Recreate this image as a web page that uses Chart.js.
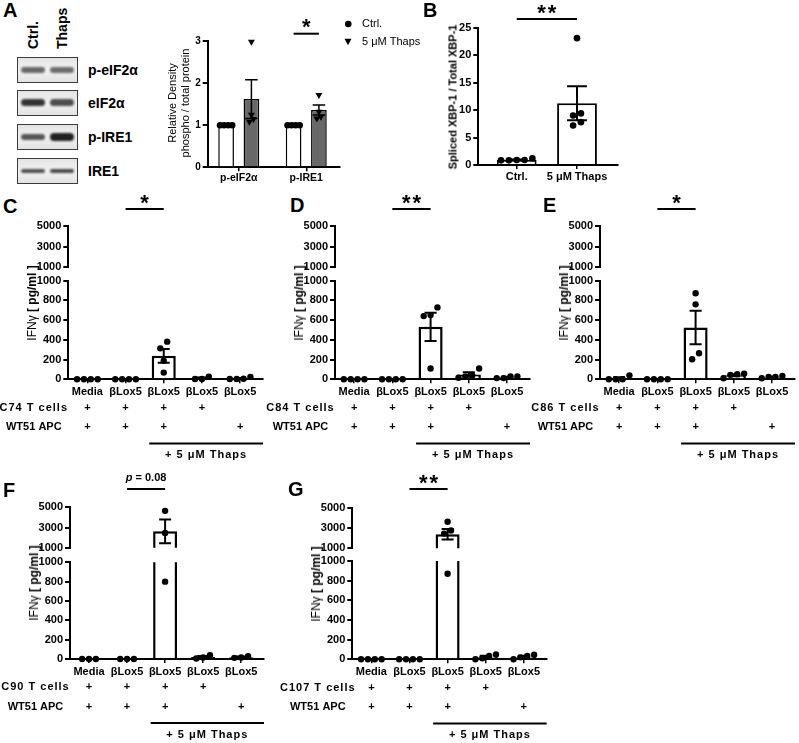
<!DOCTYPE html>
<html>
<head>
<meta charset="utf-8">
<title>Thapsigargin and IFNγ figure</title>
<script src="https://cdn.jsdelivr.net/npm/chart.js@4.4.1/dist/chart.umd.min.js"></script>
<style>
  html, body { margin: 0; padding: 0; background: #fff; }
  #fig { position: relative; width: 799px; height: 743px; overflow: hidden; background: #fff;
         font-family: "Liberation Sans", Arial, sans-serif; color: #000; }
  #fig canvas { position: absolute; }
  .t { position: absolute; white-space: nowrap; line-height: 1; }
  .blot { position: absolute; box-sizing: border-box; border: 1.5px solid #3c3c3c; overflow: hidden;
          background: linear-gradient(#e4e4e4, #f1f1f1 45%, #f1f1f1 55%, #e2e2e2); }
  .band { position: absolute; border-radius: 4px; filter: blur(1px); }
</style>
</head>
<body>
<div id="fig"></div>
<script>
// ---- values ----
const blotLanes = ['Ctrl.', 'Thaps'];
const blotRows = ['p-eIF2α', 'eIF2α', 'p-IRE1', 'IRE1'];

const densityCats = ['p-eIF2α', 'p-IRE1'];
const densityTicks = [0, 1, 2, 3];
const densityCtrl = [1, 1];
const densityThaps = [1.62, 1.36];
const densityThapsSem = [0.46, 0.12];
const densityCtrlPts = [[1, 1, 1, 1], [1, 1, 1, 1]];
const densityThapsPts = [[2.98, 1.25, 1.08, 1.15], [1.72, 1.32, 1.2, 1.16]];

const xbpCats = ['Ctrl.', '5 μM Thaps'];
const xbpTicks = [0, 5, 10, 15, 20, 25];
const xbpMean = [0.95, 11.25];
const xbpSem = [0.07, 3.1];
const xbpPts = [[1.2, 0.9, 0.85, 0.85, 0.9], [23.1, 9.4, 9.0, 7.8, 7.2]];

const ifnCats = ['Media', 'βLox5', 'βLox5', 'βLox5', 'βLox5'];
const tCellRow = ['+', '+', '+', '+', ''];
const apcRow = ['+', '+', '+', '', '+'];
const topTicks = [1000, 3000, 5000];
const bottomTicks = [0, 200, 400, 600, 800, 1000];

const c74Pts = [[0, 0, 0, 0], [0, 0, 0, 0], [314, 382, 189, 68], [27, 3, 3], [3, 3, 5, 25]];
const c74Mean = [0, 0, 238, 11, 9];
const c74Sem = [0, 0, 69, 8, 5];

const c84Pts = [[0, 0, 0, 0], [0, 0, 0, 0], [651, 641, 729, 109], [40, 15, 110, 30], [30, 12, 12, 28]];
const c84Mean = [0, 0, 532, 49, 20];
const c84Sem = [0, 0, 143, 23, 5];

const c86Pts = [[0, 0, 0, 40], [0, 0, 0, 0], [872, 760, 264, 203], [52, 45, 10, 58], [25, 10, 25, 35]];
const c86Mean = [10, 0, 525, 41, 24];
const c86Sem = [10, 0, 170, 11, 5];

const c90Pts = [[0, 0, 0], [0, 0, 0], [4650, 2450, 800], [40, 5, 15], [30, 12, 15]];
const c90Mean = [0, 0, 2620, 20, 19];
const c90Sem = [0, 0, 1170, 10, 6];

const c107Pts = [[0, 0, 0, 0], [0, 0, 0, 0], [3620, 2750, 2450, 870], [34, 0, 10, 50], [33, 0, 20, 47]];
const c107Mean = [0, 0, 2380, 24, 25];
const c107Sem = [0, 0, 510, 11, 10];

// ---- drawing ----
const FONT = '"Liberation Sans", Arial, sans-serif';
const thapsFrom = 1.62; // where the "+ 5 uM Thaps" bar starts, in category units
Chart.defaults.font.family = FONT;
Chart.defaults.color = '#000';

const fig = document.getElementById('fig');

function addCanvas(left, top, w, h) {
  const c = document.createElement('canvas');
  c.width = w; c.height = h;
  c.style.left = left + 'px'; c.style.top = top + 'px';
  c.style.width = w + 'px'; c.style.height = h + 'px';
  fig.appendChild(c);
  return c;
}

function text(str, x, baseline, size, bold = true, align = 'left') {
  const d = document.createElement('div');
  d.className = 't';
  d.innerHTML = str;
  d.style.fontSize = size + 'px';
  d.style.fontWeight = bold ? 'bold' : 'normal';
  d.style.left = x + 'px';
  d.style.top = (baseline - 0.8465 * size) + 'px';
  if (align === 'center') d.style.transform = 'translateX(-50%)';
  fig.appendChild(d);
  return d;
}

// rotated text, centred on (cx, cy)
function vtext(str, cx, cy, size, bold) {
  const d = document.createElement('div');
  d.className = 't';
  d.innerHTML = str;
  d.style.fontSize = size + 'px';
  d.style.fontWeight = bold ? 'bold' : 'normal';
  d.style.left = cx + 'px';
  d.style.top = cy + 'px';
  d.style.transform = 'translate(-50%, -50%) rotate(-90deg)';
  fig.appendChild(d);
}

// spread points sideways when their values sit close together (like a dot plot)
function swarm(vals, tol, step) {
  const idx = vals.map((v, i) => i).sort((a, b) => vals[a] - vals[b]);
  const off = new Array(vals.length).fill(0);
  let g = [];
  const flush = () => { g.forEach((k, j) => { off[k] = (j - (g.length - 1) / 2) * step; }); g = []; };
  idx.forEach(k => { if (g.length && vals[k] - vals[g[0]] > tol) flush(); g.push(k); });
  flush();
  return off;
}

function dots(cols, keep, tol, step, shift) {
  const out = [];
  cols.forEach((col, c) => {
    const vals = col.filter(keep);
    const off = swarm(vals, tol, step);
    vals.forEach((v, k) => out.push({ x: c + shift + off[k], y: v }));
  });
  return out;
}

function frame(cl, ct, w, h, area, yw, xh) {
  return { left: area.l - cl - yw, top: area.t - ct, right: cl + w - area.r, bottom: ct + h - area.b - xh };
}

function yAxis(ticks, min, max, width, size) {
  return {
    type: 'linear', min, max,
    afterBuildTicks: s => { s.ticks = ticks.map(v => ({ value: v })); },
    afterFit: s => { s.width = width; },
    border: { display: true, color: '#000', width: 2 },
    grid: { display: true, drawOnChartArea: false, drawTicks: true, tickLength: 5, color: '#000', lineWidth: 2 },
    ticks: { color: '#000', padding: 2, autoSkip: false, font: { size, weight: 'bold' }, callback: v => String(v) }
  };
}

function xAxis(min, max, cats, height, show, size, pad) {
  return {
    type: 'linear', min, max, offset: false,
    afterBuildTicks: s => { s.ticks = cats.map((c, i) => ({ value: i })); },
    afterFit: s => { s.height = height; },
    border: { display: show, color: '#000', width: 2 },
    grid: { display: show, offset: false, drawOnChartArea: false, drawTicks: true, tickLength: 4, color: '#000', lineWidth: 1.5 },
    ticks: { display: show, color: '#000', padding: pad, autoSkip: false, maxRotation: 0,
             font: { size, weight: 'bold' }, callback: v => cats[v] }
  };
}

function options(padding, scales) {
  return {
    responsive: false, animation: false, devicePixelRatio: 1, events: [],
    layout: { autoPadding: false, padding },
    scales,
    plugins: { legend: { display: false }, tooltip: { enabled: false } }
  };
}

function dotSet(data, r, extra = {}) {
  return Object.assign({ type: 'scatter', data, pointRadius: r, pointBackgroundColor: '#000',
    pointBorderWidth: 0, pointStyle: 'circle', clip: false, order: 1 }, extra);
}

function barSet(data, extra = {}) {
  return Object.assign({ data, backgroundColor: '#fff', borderColor: '#000', borderWidth: 2.5,
    categoryPercentage: 1, barPercentage: 0.63, clip: 0, order: 2, errorCap: 0.5, errorWidth: 2 }, extra);
}

// mean +/- SEM whiskers on top of the bars
Chart.register({
  id: 'errorBars',
  afterDatasetDraw(chart, args) {
    const ds = chart.data.datasets[args.index];
    if (!ds.errorCap) return;
    const ctx = chart.ctx, ys = chart.scales.y, a = chart.chartArea;
    ctx.save();
    ctx.beginPath();
    ctx.rect(a.left - 2, a.top - 2, a.right - a.left + 4, a.bottom - a.top + 4);
    ctx.clip();
    ctx.strokeStyle = '#000';
    ctx.lineWidth = ds.errorWidth;
    args.meta.data.forEach((bar, i) => {
      const d = ds.data[i];
      if (!d || !d.sem) return;
      const hi = ys.getPixelForValue(d.y + d.sem), lo = ys.getPixelForValue(d.y - d.sem);
      const half = bar.width * ds.errorCap / 2;
      ctx.beginPath();
      ctx.moveTo(bar.x, hi); ctx.lineTo(bar.x, lo);
      ctx.moveTo(bar.x - half, hi); ctx.lineTo(bar.x + half, hi);
      ctx.moveTo(bar.x - half, lo); ctx.lineTo(bar.x + half, lo);
      ctx.stroke();
    });
    ctx.restore();
  }
});

// significance bar with stars or a p value
function sigPlugin(s, canvasTop) {
  return {
    id: 'sig',
    afterDraw(chart) {
      const ctx = chart.ctx, xs = chart.scales.x;
      const x1 = xs.getPixelForValue(s.from), x2 = xs.getPixelForValue(s.to);
      const cx = (x1 + x2) / 2;
      ctx.save();
      ctx.strokeStyle = '#000'; ctx.fillStyle = '#000'; ctx.lineWidth = 2;
      ctx.beginPath(); ctx.moveTo(x1, s.lineY - canvasTop); ctx.lineTo(x2, s.lineY - canvasTop); ctx.stroke();
      if (s.p) {
        ctx.textBaseline = 'middle'; ctx.textAlign = 'left';
        ctx.font = 'italic bold 11px ' + FONT;
        const w1 = ctx.measureText('p').width;
        ctx.font = 'bold 11px ' + FONT;
        const w2 = ctx.measureText(s.p).width;
        let x = cx - (w1 + w2) / 2;
        ctx.font = 'italic bold 11px ' + FONT;
        ctx.fillText('p', x, s.textY - canvasTop);
        ctx.font = 'bold 11px ' + FONT;
        ctx.fillText(s.p, x + w1, s.textY - canvasTop);
      } else {
        ctx.textAlign = 'center'; ctx.textBaseline = 'alphabetic';
        ctx.font = 'bold 22px ' + FONT;
        ctx.letterSpacing = '2px';
        ctx.fillText(s.text, cx + 1, s.textY - canvasTop + 12);
      }
      ctx.restore();
    }
  };
}

// "+" table of T cells / APC under the IFN panels
function tablePlugin(tLabel) {
  return {
    id: 'ifnTable',
    afterDraw(chart) {
      const ctx = chart.ctx, xs = chart.scales.x, a = chart.chartArea;
      ctx.save();
      ctx.fillStyle = '#000'; ctx.strokeStyle = '#000';
      ctx.textAlign = 'center'; ctx.textBaseline = 'middle';
      ctx.font = 'bold 11px ' + FONT;
      [[tLabel, tCellRow, 28.4, '1px'], ['WT51 APC', apcRow, 48.1, '0px']].forEach(([name, marks, dy, ls]) => {
        ctx.letterSpacing = ls;
        ctx.fillText(name, a.left - 34.5, a.bottom + dy);
        ctx.letterSpacing = '0px';
        marks.forEach((m, i) => { if (m) ctx.fillText(m, xs.getPixelForValue(i), a.bottom + dy); });
      });
      const x1 = xs.getPixelForValue(thapsFrom), x2 = a.right;
      ctx.lineWidth = 2;
      ctx.beginPath(); ctx.moveTo(x1, a.bottom + 64.1); ctx.lineTo(x2, a.bottom + 64.1); ctx.stroke();
      ctx.letterSpacing = '1px';
      ctx.fillText('+ 5 μM Thaps', (x1 + x2) / 2, a.bottom + 76);
      ctx.restore();
    }
  };
}

// ---- panel A: western blot ----
text('A', 3, 17, 20);
const blotTops = [57, 90, 124, 158];
const bandLook = [ // [alpha, height] for Ctrl, Thaps
  [[0.62, 6], [0.6, 6]],
  [[0.86, 7], [0.74, 6.5]],
  [[0.7, 6], [0.95, 8]],
  [[0.72, 4], [0.76, 4]]
];
blotRows.forEach((name, r) => {
  const box = document.createElement('div');
  box.className = 'blot';
  Object.assign(box.style, { left: '17px', top: blotTops[r] + 'px', width: '61px', height: '26px' });
  [14.5, 44].forEach((cx, lane) => {
    const [alpha, h] = bandLook[r][lane];
    const b = document.createElement('div');
    b.className = 'band';
    Object.assign(b.style, { left: (cx - 12) + 'px', top: ((23 - h) / 2) + 'px', width: '24px',
      height: h + 'px', background: 'rgba(20,20,20,' + alpha + ')' });
    box.appendChild(b);
  });
  fig.appendChild(box);
  text(name, 88, blotTops[r] + 18, 14);
});
blotLanes.forEach((name, i) => {
  const d = text(name, [26, 55][i], 49, 14);
  d.style.top = '49px';
  d.style.transformOrigin = '0 0';
  d.style.transform = 'rotate(-90deg)';
});

// ---- panel A: density bars ----
{
  const cl = 140, ct = 0, w = 290, h = 190;
  const cv = addCanvas(cl, ct, w, h);
  const grp = 0.1875;
  new Chart(cv, {
    type: 'bar',
    data: { datasets: [
      dotSet(dots(densityCtrlPts, () => true, 0.14, 0.06, -grp), 3.3),
      dotSet(dots(densityThapsPts, () => true, 0.14, 0.06, grp), 4, { pointStyle: 'triangle', pointRotation: 180 }),
      barSet(densityCtrl.map((y, i) => ({ x: i, y, sem: 0 })),
        { borderWidth: 1.5, categoryPercentage: 0.75, barPercentage: 0.62, errorCap: 0 }),
      barSet(densityThaps.map((y, i) => ({ x: i, y, sem: densityThapsSem[i] })),
        { backgroundColor: '#686868', borderWidth: 1.5, categoryPercentage: 0.75, barPercentage: 0.62, errorCap: 0.8, errorWidth: 1.5 })
    ]},
    options: options(frame(cl, ct, w, h, { l: 207.7, r: 340, t: 41, b: 167.3 }, 18, 20), {
      x: xAxis(-0.46, 1.5, densityCats, 20, true, 10.5, 1),
      y: yAxis(densityTicks, 0, 3, 18, 10)
    }),
    plugins: [sigPlugin({ from: 1 - grp, to: 1 + grp, lineY: 33.7, textY: 22, text: '*' }, ct), {
      id: 'legendA',
      afterDraw(chart) {
        const ctx = chart.ctx;
        ctx.save();
        ctx.fillStyle = '#000';
        ctx.beginPath(); ctx.arc(208.3, 24, 3.3, 0, Math.PI * 2); ctx.fill();
        ctx.beginPath(); ctx.moveTo(204.5, 38.8); ctx.lineTo(211.5, 38.8); ctx.lineTo(208, 45.2); ctx.closePath(); ctx.fill();
        ctx.font = '11px ' + FONT; ctx.textBaseline = 'middle'; ctx.textAlign = 'left';
        ctx.fillText('Ctrl.', 222, 24);
        ctx.fillText('5 μM Thaps', 222, 42);
        ctx.restore();
      }
    }]
  });
  vtext('Relative Density', 172, 103, 11, false);
  vtext('phospho / total protein', 185, 103, 11, false);
}

// ---- panel B: spliced XBP-1 ----
{
  text('B', 423, 17, 20);
  const cl = 430, ct = 0, w = 220, h = 190;
  const cv = addCanvas(cl, ct, w, h);
  new Chart(cv, {
    type: 'bar',
    data: { datasets: [
      dotSet(dots(xbpPts, () => true, 1.1, 0.13, 0), 3.3),
      barSet(xbpMean.map((y, i) => ({ x: i, y, sem: xbpSem[i] })), { borderWidth: 2, barPercentage: 0.66 })
    ]},
    options: options(frame(cl, ct, w, h, { l: 478.3, r: 618, t: 27.7, b: 165 }, 26, 22), {
      x: xAxis(-0.637, 1.68, xbpCats, 22, true, 11, 1),
      y: yAxis(xbpTicks, 0, 25, 26, 11)
    }),
    plugins: [sigPlugin({ from: 0, to: 1, lineY: 19, textY: 8, text: '**' }, ct)]
  });
  vtext('Spliced XBP-1 / Total XBP-1', 453, 97, 11, true);
}

// ---- panels C-G: IFNγ with a broken y axis ----
function ifnPanel(p) {
  const yw = 40;
  text(p.letter, p.lx, p.ly, 20);
  const sig = { from: 1, to: 2, lineY: p.rowTop + 19, textY: p.rowTop + 8, text: p.stars, p: p.pval };

  // upper segment 1000-5000
  const upTop = p.rowTop, upH = Math.round(p.y1a + 10 - p.rowTop);
  const upCv = addCanvas(p.x0, upTop, p.w, upH);
  new Chart(upCv, {
    type: 'bar',
    data: { datasets: [
      dotSet(dots(p.pts, v => v > 1000, 600, 0.18, 0), 3.2),
      barSet(p.mean.map((y, i) => ({ x: i, y, sem: p.sem[i] })).filter(d => d.y > 1000))
    ]},
    options: options(frame(p.x0, upTop, p.w, upH, { l: p.axisX, r: p.right, t: p.y5000, b: p.y1a }, yw, 0), {
      x: xAxis(-0.5, 4.6, ifnCats, 0, false, 11, 2),
      y: yAxis(topTicks, 1000, 5000, yw, 11)
    }),
    plugins: [sigPlugin(sig, upTop)]
  });

  // lower segment 0-1000 plus the condition table
  const loTop = Math.round(p.y1b - 10), loH = p.rowTop + p.rowH - loTop;
  const loCv = addCanvas(p.x0, loTop, p.w, loH);
  new Chart(loCv, {
    type: 'bar',
    data: { datasets: [
      dotSet(dots(p.pts, v => v <= 1000, 100, 0.18, 0), 3.2),
      barSet(p.mean.map((y, i) => ({ x: i, y, sem: p.sem[i] })))
    ]},
    options: options(frame(p.x0, loTop, p.w, loH, { l: p.axisX, r: p.right, t: p.y1b, b: p.y0 }, yw, 22), {
      x: xAxis(-0.5, 4.6, ifnCats, 22, true, 11, 2),
      y: yAxis(bottomTicks, 0, 1000, yw, 11)
    }),
    plugins: [tablePlugin(p.tLabel)]
  });

  vtext('IFNγ <b>[ pg/ml ]</b>', p.axisX - 36, (p.y5000 + p.y0) / 2, 12, false);
}

ifnPanel({ letter: 'C', lx: 3, ly: 213, x0: 0, w: 272, rowTop: 190, rowH: 280, axisX: 68.3, right: 263,
  y5000: 225.7, y1a: 267.3, y1b: 280.7, y0: 379.3, tLabel: 'C74 T cells', stars: '*',
  pts: c74Pts, mean: c74Mean, sem: c74Sem });
ifnPanel({ letter: 'D', lx: 290, ly: 212, x0: 262, w: 275, rowTop: 190, rowH: 280, axisX: 335, right: 530,
  y5000: 225.7, y1a: 267.3, y1b: 280.7, y0: 379.3, tLabel: 'C84 T cells', stars: '**',
  pts: c84Pts, mean: c84Mean, sem: c84Sem });
ifnPanel({ letter: 'E', lx: 543, ly: 212, x0: 528, w: 271, rowTop: 190, rowH: 280, axisX: 600, right: 795,
  y5000: 225.7, y1a: 267.3, y1b: 280.7, y0: 379.3, tLabel: 'C86 T cells', stars: '*',
  pts: c86Pts, mean: c86Mean, sem: c86Sem });
ifnPanel({ letter: 'F', lx: 3, ly: 497, x0: 0, w: 272, rowTop: 470, rowH: 273, axisX: 70, right: 264,
  y5000: 507.3, y1a: 547.7, y1b: 562.3, y0: 659, tLabel: 'C90 T cells', pval: ' = 0.08',
  pts: c90Pts, mean: c90Mean, sem: c90Sem });
ifnPanel({ letter: 'G', lx: 288, ly: 496, x0: 272, w: 285, rowTop: 470, rowH: 273, axisX: 352.3, right: 546.7,
  y5000: 507.7, y1a: 548.3, y1b: 561, y0: 659.3, tLabel: 'C107 T cells', stars: '**',
  pts: c107Pts, mean: c107Mean, sem: c107Sem });
</script>
</body>
</html>
